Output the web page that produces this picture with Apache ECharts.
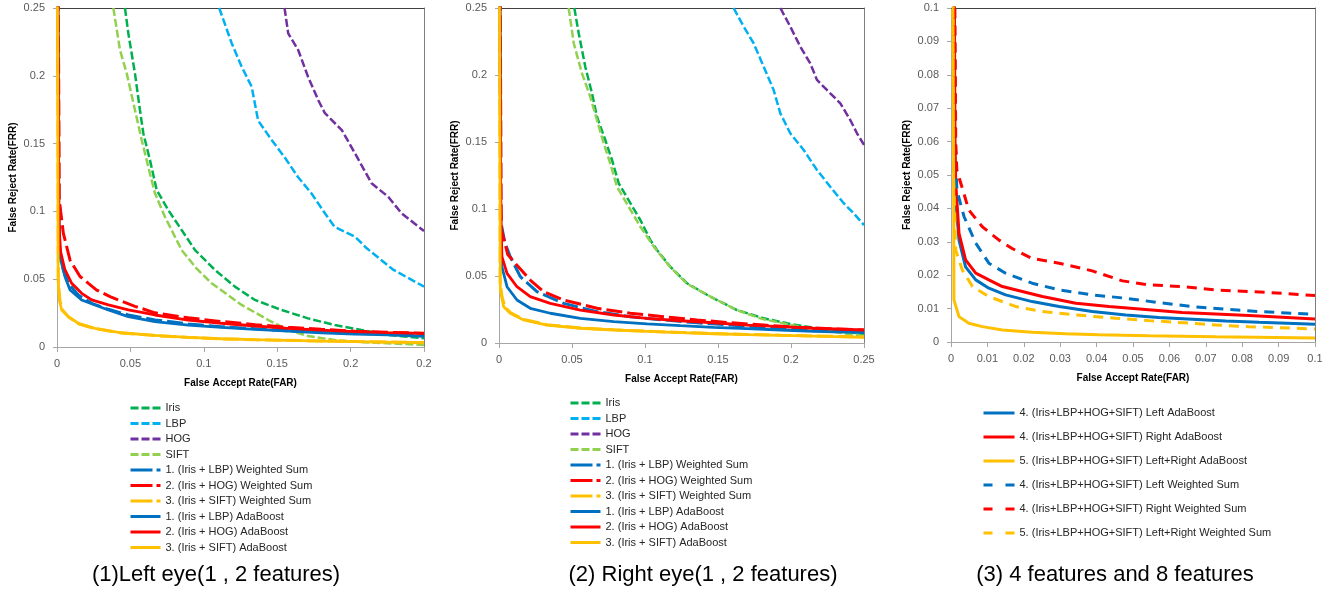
<!DOCTYPE html>
<html><head><meta charset="utf-8">
<script src="https://cdn.jsdelivr.net/npm/echarts/dist/echarts.min.js"></script>
<style>html,body{margin:0;padding:0;background:#fff}#c{width:1337px;height:594px}</style>
</head><body><div id="c"></div>
<script>
// ---------- tick labels ----------
const xTicks1 = ['0','0.05','0.1','0.15','0.2','0.2'];
const xTicks2 = ['0','0.05','0.1','0.15','0.2','0.25'];
const yTicks12 = ['0','0.05','0.1','0.15','0.2','0.25'];
const ticks3 = ['0','0.01','0.02','0.03','0.04','0.05','0.06','0.07','0.08','0.09','0.1'];
const captions = ['(1)Left eye(1 , 2 features)', '(2) Right eye(1 , 2 features)', '(3) 4 features and 8 features'];

// ---------- series names ----------
const names12 = ['Iris','LBP','HOG','SIFT',
  '1. (Iris + LBP) Weighted Sum','2. (Iris + HOG) Weighted Sum','3. (Iris + SIFT) Weighted Sum',
  '1. (Iris + LBP) AdaBoost','2. (Iris + HOG) AdaBoost','3. (Iris + SIFT) AdaBoost'];
const names3 = ['4. (Iris+LBP+HOG+SIFT) Left AdaBoost','4. (Iris+LBP+HOG+SIFT) Right AdaBoost',
  '5. (Iris+LBP+HOG+SIFT) Left+Right AdaBoost','4. (Iris+LBP+HOG+SIFT) Left Weighted Sum',
  '4. (Iris+LBP+HOG+SIFT) Right Weighted Sum','5. (Iris+LBP+HOG+SIFT) Left+Right Weighted Sum'];

// ---------- panel 1 : left eye [FAR, FRR] ----------
const p1Iris = [[0.0463,0.25],[0.0486,0.2313],[0.0531,0.2018],[0.0565,0.1748],[0.0588,0.1576],[0.0633,0.138],[0.0679,0.1158],[0.0758,0.101],[0.0849,0.0863],[0.094,0.0715],[0.1076,0.0568],[0.1212,0.0445],[0.1348,0.0347],[0.153,0.0273],[0.171,0.0211],[0.1893,0.0162],[0.2075,0.0125],[0.2256,0.0089],[0.25,0.0064]];
const p1Lbp = [[0.1105,0.25],[0.119,0.224],[0.1258,0.2067],[0.1326,0.192],[0.137,0.167],[0.146,0.153],[0.155,0.140],[0.164,0.1256],[0.1735,0.113],[0.1825,0.0986],[0.189,0.0887],[0.203,0.0813],[0.211,0.0728],[0.229,0.057],[0.25,0.0445]];
const p1Hog = [[0.155,0.25],[0.1575,0.2313],[0.1643,0.219],[0.171,0.1993],[0.178,0.182],[0.1825,0.1724],[0.194,0.160],[0.203,0.1428],[0.2143,0.1207],[0.2256,0.1108],[0.2347,0.0986],[0.25,0.0855]];
const p1Sift = [[0.0384,0.25],[0.0429,0.219],[0.0475,0.2018],[0.0531,0.1748],[0.0577,0.1527],[0.0633,0.128],[0.0667,0.1134],[0.0735,0.0961],[0.0849,0.0715],[0.095,0.058],[0.1053,0.047],[0.1258,0.031],[0.144,0.0199],[0.1575,0.0125],[0.171,0.0081],[0.19,0.005],[0.21,0.0035],[0.23,0.0025],[0.25,0.0015]];
const p1BlueWs = [[0.0008,0.26],[0.0013,0.1],[0.0018,0.0715],[0.0043,0.0568],[0.0077,0.047],[0.0145,0.0383],[0.0236,0.0322],[0.035,0.0278],[0.0486,0.0236],[0.0667,0.0200],[0.0894,0.0170],[0.112,0.0150],[0.135,0.0135],[0.1575,0.0120],[0.18,0.0110],[0.203,0.0101],[0.2256,0.0093],[0.25,0.0086]];
const p1RedWs = [[0.0009,0.26],[0.0015,0.11],[0.0025,0.1],[0.0043,0.084],[0.0089,0.064],[0.0157,0.052],[0.027,0.042],[0.0365,0.037],[0.0531,0.030],[0.0667,0.0252],[0.0894,0.0215],[0.112,0.0188],[0.135,0.0165],[0.1575,0.0145],[0.18,0.013],[0.203,0.0117],[0.2256,0.0108],[0.25,0.0102]];
const p1YellowWs = [[0.0005,0.26],[0.0009,0.048],[0.002,0.034],[0.004,0.027],[0.008,0.022],[0.015,0.017],[0.026,0.0135],[0.044,0.0103],[0.067,0.0084],[0.09,0.007],[0.112,0.006],[0.135,0.0053],[0.18,0.0045],[0.25,0.0032]];
const p1BlueAda = [[0.0007,0.26],[0.0012,0.1],[0.002,0.0666],[0.0054,0.052],[0.0089,0.042],[0.0168,0.0347],[0.0259,0.031],[0.035,0.0273],[0.0486,0.0224],[0.0667,0.0187],[0.0894,0.0162],[0.112,0.0145],[0.135,0.013],[0.1575,0.0118],[0.18,0.0105],[0.203,0.0096],[0.2256,0.0089],[0.25,0.0078]];
const p1RedAda = [[0.0006,0.26],[0.0012,0.11],[0.0016,0.085],[0.0025,0.07],[0.0054,0.057],[0.010,0.047],[0.0168,0.0396],[0.0236,0.0347],[0.035,0.031],[0.0486,0.0273],[0.0667,0.0236],[0.0894,0.0199],[0.112,0.0175],[0.135,0.0155],[0.1575,0.0138],[0.18,0.0125],[0.203,0.0114],[0.2256,0.0106],[0.25,0.0100]];
const p1YellowAda = [[0.0003,0.26],[0.0008,0.05],[0.0015,0.035],[0.0032,0.0273],[0.0077,0.0224],[0.0145,0.0175],[0.0259,0.0138],[0.044,0.0105],[0.0667,0.0086],[0.0894,0.0071],[0.112,0.0061],[0.135,0.0054],[0.1575,0.0049],[0.18,0.0044],[0.203,0.0039],[0.2256,0.0036],[0.25,0.0034]];

// ---------- panel 2 : right eye ----------
const p2Iris = [[0.0516,0.25],[0.0546,0.2311],[0.0591,0.2062],[0.0637,0.1863],[0.0671,0.1689],[0.0728,0.1515],[0.0774,0.1366],[0.082,0.1192],[0.090,0.1043],[0.0968,0.0918],[0.1036,0.0769],[0.1082,0.0694],[0.1173,0.0569],[0.1288,0.0446],[0.1447,0.0346],[0.163,0.0246],[0.1813,0.0184],[0.1995,0.0142],[0.2178,0.011],[0.2361,0.0084],[0.25,0.0067]];
const p2Lbp = [[0.1607,0.25],[0.1676,0.2361],[0.1744,0.2237],[0.1813,0.2062],[0.1881,0.1888],[0.1927,0.1714],[0.1995,0.1565],[0.2087,0.144],[0.2178,0.1291],[0.2269,0.1166],[0.2361,0.1043],[0.2429,0.0968],[0.25,0.088]];
const p2Hog = [[0.1927,0.25],[0.1995,0.2361],[0.2064,0.2211],[0.2132,0.2087],[0.2178,0.1963],[0.2269,0.1863],[0.2338,0.1789],[0.2406,0.1664],[0.2452,0.1565],[0.25,0.1478]];
const p2Sift = [[0.0477,0.25],[0.0512,0.2237],[0.0568,0.2013],[0.0625,0.1838],[0.0671,0.1664],[0.0717,0.149],[0.0762,0.1341],[0.0808,0.1166],[0.0888,0.1017],[0.0968,0.0868],[0.106,0.0719],[0.117,0.057],[0.129,0.044],[0.145,0.0345],[0.163,0.0245],[0.18,0.018],[0.2,0.0135],[0.218,0.010],[0.236,0.0072],[0.25,0.0052]];
const p2BlueWs = [[0.0008,0.26],[0.0013,0.09],[0.004,0.075],[0.0077,0.0644],[0.0146,0.0495],[0.026,0.0383],[0.0443,0.0296],[0.0671,0.0234],[0.0899,0.0196],[0.1128,0.0172],[0.1356,0.0151],[0.1584,0.0134],[0.1813,0.0117],[0.2041,0.0102],[0.25,0.0085]];
const p2RedWs = [[0.0009,0.26],[0.0014,0.1],[0.0018,0.0843],[0.006,0.066],[0.0123,0.058],[0.0214,0.047],[0.0306,0.0383],[0.0443,0.0321],[0.0671,0.0259],[0.0899,0.0222],[0.1128,0.0196],[0.1356,0.0172],[0.1584,0.0151],[0.1813,0.0134],[0.2041,0.0117],[0.2269,0.0107],[0.25,0.0097]];
const p2YellowWs = [[0.0005,0.26],[0.0008,0.045],[0.002,0.035],[0.004,0.027],[0.008,0.0225],[0.017,0.0175],[0.033,0.0136],[0.056,0.0112],[0.079,0.0098],[0.101,0.0088],[0.124,0.0079],[0.147,0.0071],[0.17,0.0064],[0.193,0.0058],[0.25,0.0045]];
const p2BlueAda = [[0.0007,0.26],[0.0012,0.09],[0.002,0.0569],[0.0055,0.042],[0.0123,0.0321],[0.0214,0.0259],[0.0351,0.0222],[0.0557,0.0184],[0.0786,0.0159],[0.1014,0.0142],[0.1242,0.0129],[0.147,0.0117],[0.1699,0.0107],[0.1927,0.0097],[0.2155,0.0087],[0.25,0.0077]];
const p2RedAda = [[0.0006,0.26],[0.0012,0.11],[0.0015,0.085],[0.002,0.0644],[0.0055,0.052],[0.0123,0.042],[0.0214,0.0346],[0.0351,0.0296],[0.0557,0.0246],[0.0786,0.0209],[0.1014,0.0184],[0.1242,0.0166],[0.147,0.0151],[0.1699,0.0134],[0.1927,0.0122],[0.2155,0.011],[0.25,0.0097]];
const p2YellowAda = [[0.0003,0.26],[0.0009,0.0396],[0.0032,0.0271],[0.0077,0.0222],[0.0169,0.0172],[0.0329,0.0134],[0.0557,0.011],[0.0786,0.0097],[0.1014,0.0087],[0.1242,0.0077],[0.147,0.0069],[0.1699,0.0062],[0.1927,0.0057],[0.2155,0.0052],[0.25,0.0042]];

// ---------- panel 3 : 4 and 8 features ----------
const p3LeftAda = [[0.0008,0.11],[0.001,0.06],[0.0013,0.0425],[0.0022,0.0305],[0.004,0.0225],[0.0068,0.0186],[0.0104,0.0161],[0.015,0.0141],[0.0223,0.0121],[0.0297,0.0106],[0.0388,0.0091],[0.048,0.0081],[0.0571,0.0073],[0.0663,0.0068],[0.0755,0.0063],[0.0846,0.0059],[0.1,0.0053]];
const p3RightAda = [[0.0009,0.11],[0.0011,0.06],[0.0013,0.0475],[0.0022,0.0325],[0.004,0.0246],[0.0068,0.0206],[0.0104,0.0186],[0.0141,0.0166],[0.0196,0.0151],[0.0251,0.0136],[0.0343,0.0116],[0.0434,0.0106],[0.0526,0.0098],[0.0635,0.0088],[0.0727,0.0084],[0.0819,0.0079],[0.091,0.0074],[0.1,0.0069]];
const p3BothAda = [[0.0006,0.11],[0.0008,0.0126],[0.0022,0.0076],[0.0049,0.0056],[0.0086,0.0046],[0.0141,0.0036],[0.0223,0.0029],[0.0315,0.0025],[0.0407,0.0022],[0.0544,0.0019],[0.0727,0.0016],[0.1,0.0012]];
const p3LeftWs = [[0.0009,0.11],[0.0012,0.06],[0.0016,0.0455],[0.0036,0.0375],[0.0068,0.0296],[0.0104,0.0236],[0.015,0.0206],[0.0223,0.0176],[0.0297,0.0156],[0.0388,0.0141],[0.048,0.0131],[0.0571,0.0118],[0.0663,0.0106],[0.0755,0.0098],[0.0846,0.0091],[0.1,0.0083]];
const p3RightWs = [[0.001,0.11],[0.0013,0.06],[0.0016,0.0515],[0.0049,0.0395],[0.0086,0.0345],[0.0132,0.0305],[0.0168,0.028],[0.0223,0.025],[0.0297,0.0236],[0.0388,0.0213],[0.0471,0.0183],[0.0544,0.0171],[0.0635,0.0166],[0.0727,0.0156],[0.0819,0.0151],[0.091,0.0146],[0.1,0.0139]];
const p3BothWs = [[0.0005,0.11],[0.0007,0.05],[0.0013,0.0275],[0.0031,0.0216],[0.0059,0.0166],[0.0104,0.0136],[0.0178,0.0106],[0.0251,0.0091],[0.0343,0.0081],[0.0452,0.0071],[0.0544,0.0064],[0.0635,0.0058],[0.0727,0.0051],[0.0819,0.0046],[0.1,0.0039]];

// ---------- styling ----------
const C = {iris:'#00B050', lbp:'#00B0F0', hog:'#7030A0', sift:'#92D050', blue:'#0070C0', red:'#FF0000', yellow:'#FFC000'};
const FONT = 'Liberation Sans';
const SHORT = [8,3], LONG = [16,5], DASH3 = [10,7];

function ser(name, data, color, type, width, idx) {
  return {type:'line', name, data, xAxisIndex:idx*2, yAxisIndex:idx*2, showSymbol:false, symbol:'none',
    clip:true, silent:true, lineStyle:{color, type, width}, itemStyle:{color}};
}

const series = [];
[[p1Iris,p1Lbp,p1Hog,p1Sift,p1BlueWs,p1RedWs,p1YellowWs,p1BlueAda,p1RedAda,p1YellowAda],
 [p2Iris,p2Lbp,p2Hog,p2Sift,p2BlueWs,p2RedWs,p2YellowWs,p2BlueAda,p2RedAda,p2YellowAda]].forEach((arr, idx) => {
  const cols = [C.iris,C.lbp,C.hog,C.sift,C.blue,C.red,C.yellow,C.blue,C.red,C.yellow];
  const types = [SHORT,SHORT,SHORT,SHORT,LONG,LONG,LONG,'solid','solid','solid'];
  const widths = [2.5,2.5,2.5,2.5,3,3,3,2.8,2.8,2.8];
  arr.forEach((d,i) => series.push(ser(names12[i], d, cols[i], types[i], widths[i], idx)));
});
[p3LeftAda,p3RightAda,p3BothAda,p3LeftWs,p3RightWs,p3BothWs].forEach((d,i) => {
  const cols = [C.blue,C.red,C.yellow,C.blue,C.red,C.yellow];
  series.push(ser(names3[i], d, cols[i], i<3?'solid':DASH3, 3, 2));
});

const grids = [
  {left:57, top:8, width:367, height:339},
  {left:499, top:8, width:365, height:335},
  {left:951, top:8, width:364, height:334}
];
const ranges = [[0.25,0.05,xTicks1,0.25,0.05,yTicks12],[0.25,0.05,xTicks2,0.25,0.05,yTicks12],[0.1,0.01,ticks3,0.1,0.01,ticks3]];
const xAxis = [], yAxis = [];
ranges.forEach((r, i) => {
  xAxis.push({type:'value', gridIndex:i, min:0, max:r[0], interval:r[1], position:'bottom',
    axisLine:{show:true, onZero:false, lineStyle:{color:'#A6A6A6', width:1}},
    axisTick:{show:true, length:5, lineStyle:{color:'#A6A6A6'}},
    splitLine:{show:false},
    axisLabel:{color:'#595959', fontSize:11, fontFamily:FONT, margin:11, formatter:(v, k) => r[2][k]},
    name:'False Accept Rate(FAR)', nameLocation:'middle', nameGap:31,
    nameTextStyle:{fontWeight:'bold', fontSize:10, color:'#000', fontFamily:FONT}});
  xAxis.push({type:'value', gridIndex:i, min:0, max:r[0], position:'top',
    axisLine:{show:true, onZero:false, lineStyle:{color:'#404040', width:1}},
    axisTick:{show:false}, axisLabel:{show:false}, splitLine:{show:false}});
  yAxis.push({type:'value', gridIndex:i, min:0, max:r[3], interval:r[4], position:'left',
    axisLine:{show:true, onZero:false, lineStyle:{color:'#A6A6A6', width:1}},
    axisTick:{show:true, length:4, lineStyle:{color:'#A6A6A6'}},
    splitLine:{show:false},
    axisLabel:{color:'#595959', fontSize:11, fontFamily:FONT, margin:12, formatter:(v, k) => r[5][k]},
    name:'False Reject Rate(FRR)', nameLocation:'middle', nameGap:39, nameRotate:90,
    nameTextStyle:{fontWeight:'bold', fontSize:10, color:'#000', fontFamily:FONT}});
  yAxis.push({type:'value', gridIndex:i, min:0, max:r[3], position:'right',
    axisLine:{show:true, onZero:false, lineStyle:{color:'#7F7F7F', width:1}},
    axisTick:{show:false}, axisLabel:{show:false}, splitLine:{show:false}});
});

const legText = {color:'#262626', fontSize:11, fontFamily:FONT, lineHeight:12};
const legData12 = names12.map((n, i) => (i>=4 && i<=6) ? {name:n, lineStyle:{type:[22,4]}} : {name:n});
const legData3 = names3.map((n, i) => i>=3 ? {name:n, lineStyle:{type:[9,13]}} : {name:n});
const legends = [
  {data:legData12, left:129, top:402, itemGap:3.5},
  {data:legData12, left:569, top:397, itemGap:3.5},
  {data:legData3, left:982, top:407, itemGap:12, itemWidth:31}
].map(l => Object.assign({orient:'vertical', itemWidth:30, itemHeight:12, textStyle:legText,
  selectedMode:false, padding:0, lineStyle:{width:3},
  itemStyle:{opacity:0, color:'rgba(0,0,0,0)', borderWidth:0}}, l));

const capX = [216, 703, 1115];
const chart = echarts.init(document.getElementById('c'), null, {renderer:'canvas'});
chart.setOption({
  backgroundColor:'#fff', animation:false,
  grid: grids.map(g => Object.assign({containLabel:false, outerBoundsMode:'none'}, g)),
  xAxis, yAxis, series, legend:legends,
  graphic: captions.map((t, i) => ({type:'text', id:'cap'+i, x:capX[i], y:575, z:10,
    style:{text:t, fontSize:22, fontFamily:FONT, fill:'#000', align:'center', verticalAlign:'middle'}}))
});
</script></body></html>
